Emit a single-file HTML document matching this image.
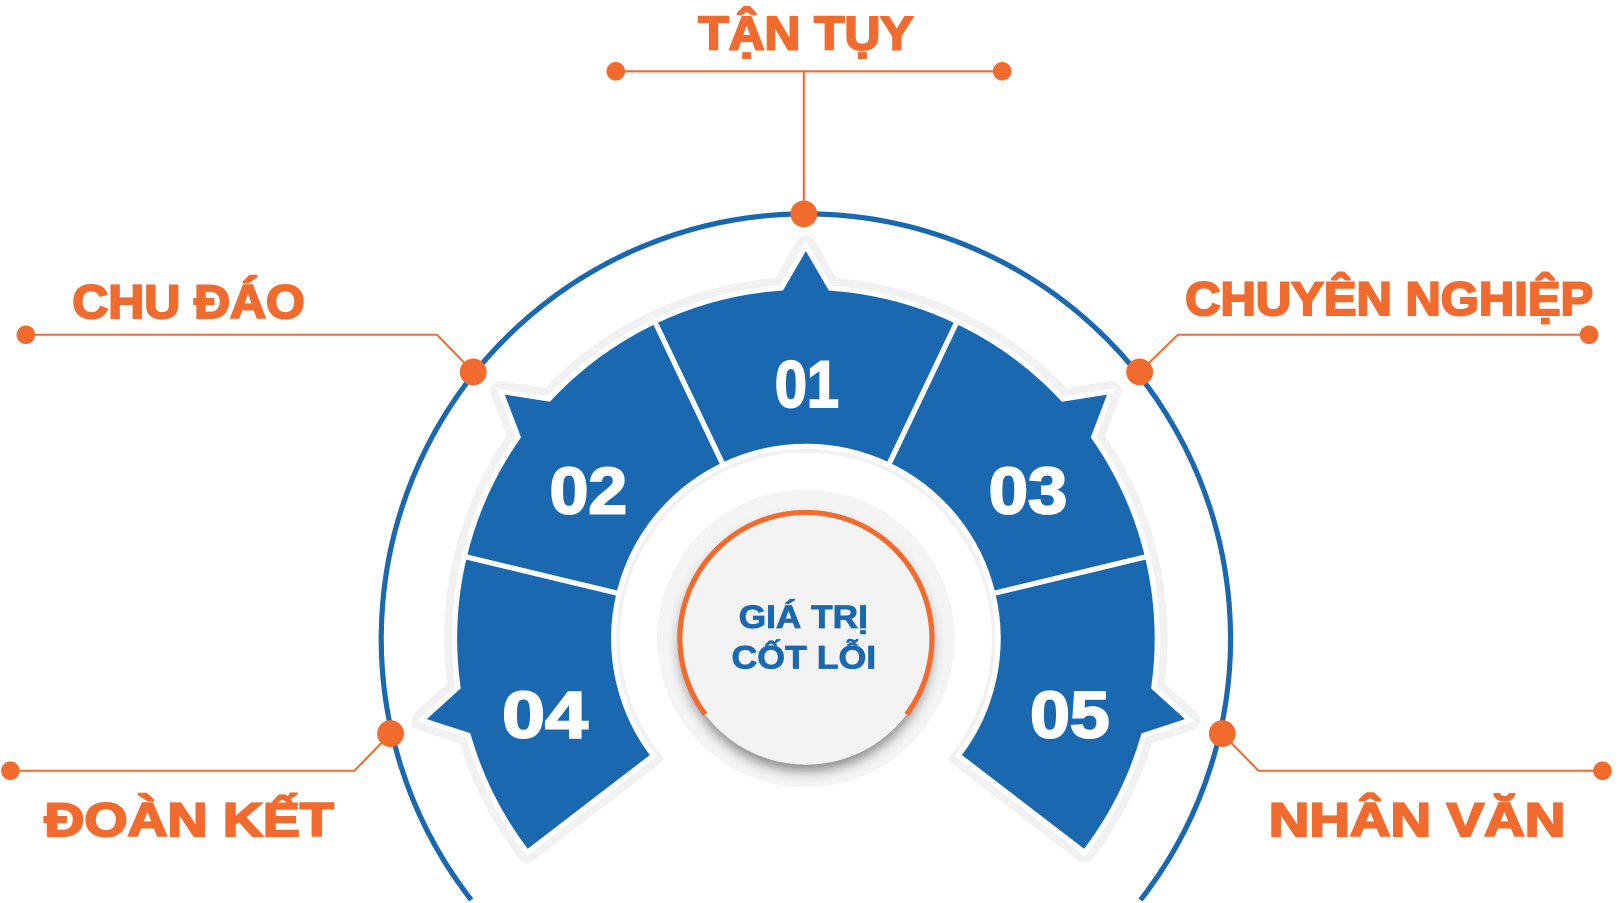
<!DOCTYPE html>
<html><head><meta charset="utf-8"><style>
html,body{margin:0;padding:0;background:#fff;}
svg{display:block;}
text{font-family:"Liberation Sans",sans-serif;font-weight:bold;}
</style></head><body>
<svg width="1618" height="903" viewBox="0 0 1618 903" xmlns="http://www.w3.org/2000/svg">
<defs>
<filter id="sh" x="-30%" y="-30%" width="160%" height="160%">
<feDropShadow dx="0" dy="6" stdDeviation="6" flood-color="#000" flood-opacity="0.45"/>
</filter>
<path id="seg" d="M-80.1,-167.9 L-146.4,-306.9 A340 340 0 0 1 -23.7,-339.2 L0,-380 L23.7,-339.2 A340 340 0 0 1 146.4,-306.9 L80.1,-167.9 A186 186 0 0 0 -80.1,-167.9 Z"/>
</defs>
<g transform="scale(1.0332)">
<path d="M456.1,871 A411 411 0 1 1 1103.9,871" fill="none" stroke="#1a69b0" stroke-width="5"/>
<g transform="translate(780,618)">
  <g fill="#f1f1f1" stroke="#f1f1f1" stroke-width="20" stroke-linejoin="round">
    <use href="#seg"/>
    <use href="#seg" transform="rotate(-51)"/>
    <use href="#seg" transform="rotate(51)"/>
    <use href="#seg" transform="rotate(-102)"/>
    <use href="#seg" transform="rotate(102)"/>
  </g>
  <g fill="#1a69b0" stroke="#fff" stroke-width="5" stroke-linejoin="miter">
    <use href="#seg"/>
    <use href="#seg" transform="rotate(-51)"/>
    <use href="#seg" transform="rotate(51)"/>
    <use href="#seg" transform="rotate(-102)"/>
    <use href="#seg" transform="rotate(102)"/>
  </g>
  <circle r="180" fill="#fff"/>
  <circle r="144" fill="#f4f4f4"/>
  <circle r="122" fill="#f3f3f3" filter="url(#sh)"/>
  <path d="M-97.4,73.4 A122 122 0 1 1 97.4,73.4" fill="none" stroke="#f26b2e" stroke-width="5"/>
</g>
<g fill="#fff" stroke="#fff" stroke-width="2" font-size="64">
<text x="750" y="394" textLength="62" lengthAdjust="spacingAndGlyphs">01</text>
<text x="532" y="497" textLength="75" lengthAdjust="spacingAndGlyphs">02</text>
<text x="957" y="497" textLength="76" lengthAdjust="spacingAndGlyphs">03</text>
<text x="486" y="714" textLength="83" lengthAdjust="spacingAndGlyphs">04</text>
<text x="997" y="714" textLength="77" lengthAdjust="spacingAndGlyphs">05</text>
</g>
<g fill="#1a69b0" stroke="#1a69b0" stroke-width="0.8" font-size="31">
<text x="715" y="608" textLength="125" lengthAdjust="spacingAndGlyphs">GIÁ TRỊ</text>
<text x="708" y="647" textLength="140" lengthAdjust="spacingAndGlyphs">CỐT LỖI</text>
</g>
<g stroke="#f26b2e" stroke-width="2" fill="none">
<path d="M778,207 V69 M596,69 H970"/>
<path d="M458,360 L423,324 H25"/>
<path d="M1103,360 L1140,324 H1538"/>
<path d="M378,710 L343,746 H10"/>
<path d="M1183,710 L1218,746 H1551"/>
</g>
<g fill="#f26b2e">
<circle cx="778" cy="207" r="13"/>
<circle cx="596" cy="69" r="9"/><circle cx="970" cy="69" r="9"/>
<circle cx="458" cy="360" r="13"/><circle cx="25" cy="324" r="9"/>
<circle cx="1103" cy="360" r="13"/><circle cx="1538" cy="324" r="9"/>
<circle cx="378" cy="710" r="13"/><circle cx="10" cy="746" r="9"/>
<circle cx="1183" cy="710" r="13"/><circle cx="1551" cy="746" r="9"/>
</g>
<g fill="#f26b2e" stroke="#f26b2e" stroke-width="2" font-size="46">
<text x="676" y="48" textLength="208" lengthAdjust="spacingAndGlyphs">TẬN TỤY</text>
<text x="70" y="308" textLength="225" lengthAdjust="spacingAndGlyphs">CHU ĐÁO</text>
<text x="1147" y="305" textLength="395" lengthAdjust="spacingAndGlyphs">CHUYÊN NGHIỆP</text>
<text x="43" y="809" textLength="280" lengthAdjust="spacingAndGlyphs">ĐOÀN KẾT</text>
<text x="1228" y="809" textLength="287" lengthAdjust="spacingAndGlyphs">NHÂN VĂN</text>
</g>
</g>
</svg>
</body></html>
